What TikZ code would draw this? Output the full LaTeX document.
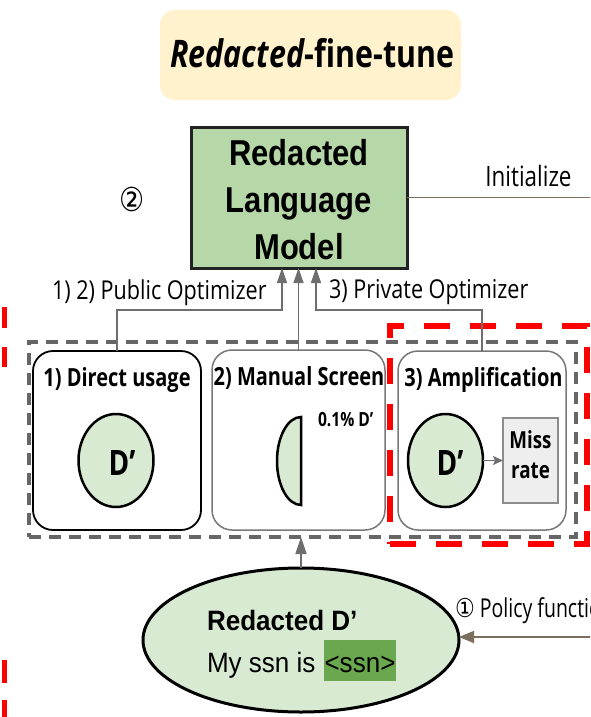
\documentclass[tikz,border=0pt]{standalone}
\usepackage{fontspec}
\setmainfont{Open Sans}[FakeStretch=0.8]
\newfontfamily\labelsans{Open Sans}[FakeStretch=0.83]
\newfontfamily\policysans{Open Sans}[FakeStretch=0.75]
\newfontfamily\narrowsans{Liberation Sans}[FakeStretch=0.86]
\newfontfamily\ellsans{Liberation Sans}[FakeStretch=0.93]
\newfontfamily\symbolfont{DejaVu Sans}[FakeStretch=0.85]
\usetikzlibrary{arrows.meta,shapes.geometric}

\definecolor{titlefill}{HTML}{FFF2CC}
\definecolor{modelfill}{HTML}{B6D7A8}
\definecolor{modelborder}{HTML}{222222}
\definecolor{dfill}{HTML}{D9EAD3}
\definecolor{ssnfill}{HTML}{6AA84F}
\definecolor{arrowgray}{HTML}{6E6E6E}
\definecolor{dashgray}{HTML}{666666}
\definecolor{panelgray}{HTML}{777777}
\definecolor{missfill}{HTML}{EEEEEE}
\definecolor{missborder}{HTML}{8C8C8C}
\definecolor{initbrown}{HTML}{7A6F5E}

\newcommand\fs[2]{\fontsize{#1}{#2}\selectfont}

\begin{document}
\begin{tikzpicture}[x=1pt,y=-1pt,
  every node/.style={inner sep=0pt, outer sep=0pt},
  txt/.style={anchor=base},
  panel/.style={draw, fill=white, rounded corners=20pt, line width=1.5pt,
    minimum width=168, minimum height=179},
  dcircle/.style={ellipse, draw, fill=dfill, line width=2.5pt,
    minimum width=75, minimum height=93},
  optarrow/.style={draw=arrowgray, line width=1.5pt,
    -{Triangle[length=15pt,width=10pt]}},
  inarrow/.style={draw=arrowgray, line width=1.5pt,
    -{Triangle[length=17pt,width=11pt]}},
  smallarrow/.style={draw=arrowgray, line width=1.5pt,
    -{Stealth[length=10pt,width=9pt,inset=2pt]}},
  brownline/.style={draw=initbrown, line width=1.6pt},
  brownarrow/.style={draw=initbrown, line width=1.6pt,
    -{Triangle[length=15pt,width=12pt]}},
  reddash/.style={draw=red, line width=5.5pt, dash pattern=on 26pt off 20pt},
]
\useasboundingbox (0,0) rectangle (590,717);
\clip (0,0) rectangle (590,717);

% title banner
\node[fill=titlefill, rounded corners=15pt, minimum width=301, minimum height=90]
  (titlebox) at (310.5,55) {};
\node[txt, font=\fs{38}{44}\bfseries] (title) at (312.5,67)
  {\textit{Redacted}-fine-tune};

% language model
\node[draw=modelborder, line width=3pt, fill=modelfill,
  minimum width=216, minimum height=141] (lm) at (299,197.5) {};
\node[font=\narrowsans\bfseries\fs{36}{47}, align=center] (lmlabel) at (299,200)
  {Redacted\\Language\\Model};
\node[font=\symbolfont\fs{33}{36}] (step2) at (132,199) {②};

% initialization link
\coordinate (initend) at (600,197.5);
\draw[brownline] (lm.east) -- (initend);
\node[txt, font=\fs{28}{32}] (initlabel) at (528.5,186) {Initialize};

% optimizer labels
\node[anchor=base west, font=\labelsans\fs{26}{30}] (publab) at (52,299) {1) 2) Public Optimizer};
\node[anchor=base west, font=\labelsans\fs{26}{30}] (privlab) at (329,298) {3) Private Optimizer};

% grouping frame
\node[draw=dashgray, line width=3.5pt, dash pattern=on 12pt off 8pt,
  minimum width=547, minimum height=195] (grp) at (302.5,439.5) {};

% three usage panels
\node[panel, draw=black, line width=1.8pt] (b1) at (117,440.5) {};
\node[panel, draw=panelgray, minimum width=173, minimum height=180] (b2) at (298.5,440) {};
\node[panel, draw=panelgray] (b3) at (482,440.5) {};

\node[txt, font=\fs{25}{30}\bfseries] (b1title) at (117,386) {1) Direct usage};
\node[txt, font=\fs{25}{30}\bfseries] (b2title) at (299,385) {2) Manual Screen};
\node[txt, font=\fs{25}{30}\bfseries] (b3title) at (483.5,386) {3) Amplification};

% panel 1
\node[dcircle] (c1) at (116,460.5) {};
\node[txt, font=\fs{35}{40}\bfseries] (c1label) at (122,475) {D’};

% panel 2: a small screened slice
\draw[draw=black, fill=dfill, line width=2.5pt]
  (301,505) arc[start angle=270, end angle=90, x radius=24pt, y radius=44pt] -- cycle;
\node[anchor=base west, font=\fs{19.5}{22}\bfseries] (slicelabel) at (318,426) {0.1\% D’};

% panel 3
\node[dcircle] (c3) at (445.5,460.5) {};
\node[txt, font=\fs{35}{40}\bfseries] (c3label) at (450,475) {D’};
\node[draw=missborder, fill=missfill, line width=1.2pt,
  minimum width=55, minimum height=85] (miss) at (530.5,460.5) {};
\node[font=\fs{23.5}{30}\bfseries, align=center] (misslabel) at (530.5,454.5) {Miss\\rate};
\draw[smallarrow] (c3.east) -- (miss.west);

% private setting highlight
\node[reddash, minimum width=197, minimum height=218] (amp) at (488.5,435) {};
\draw[reddash, dash pattern=on 21pt off 19pt] (4.5,307) -- (4.5,367);
\draw[reddash, dash pattern=on 23pt off 17pt] (4.5,660) -- (4.5,717);

% optimizer connectors
\coordinate (jct) at (0,310);
\draw[optarrow] (b1.north) -- (b1.north |- jct) -| ([xshift=-17pt]lm.south);
\draw[optarrow] (b2.north) -- (b2.north |- lm.south);
\draw[optarrow] (b3.north) -- (b3.north |- jct) -| ([xshift=17pt]lm.south);

% redacted data
\node[ellipse, draw, line width=3pt, fill=dfill, minimum width=316, minimum height=144]
  (rd) at (301,640) {};
\node[anchor=base west, font=\ellsans\bfseries\fs{28}{32}] (rdtitle) at (207,630) {Redacted D’};
\node[anchor=base west, font=\ellsans\fs{28}{32}] (rdtext) at (207,672) {My ssn is};
\node[anchor=base west, fill=ssnfill, font=\ellsans\fs{28}{32}, minimum width=72,
  text height=32pt, text depth=9pt] (ssn) at (324,672) {<ssn>};
\draw[inarrow] (rd.north) -- (rd.north |- grp.south);

% policy function input
\coordinate (polstart) at (600,637);
\draw[brownarrow] (polstart) -- (polstart -| rd.east);
\node[anchor=base west, font=\policysans\fs{26}{32}] (pollab) at (455,617)
  {{\symbolfont ①} Policy function};
\end{tikzpicture}
\end{document}
